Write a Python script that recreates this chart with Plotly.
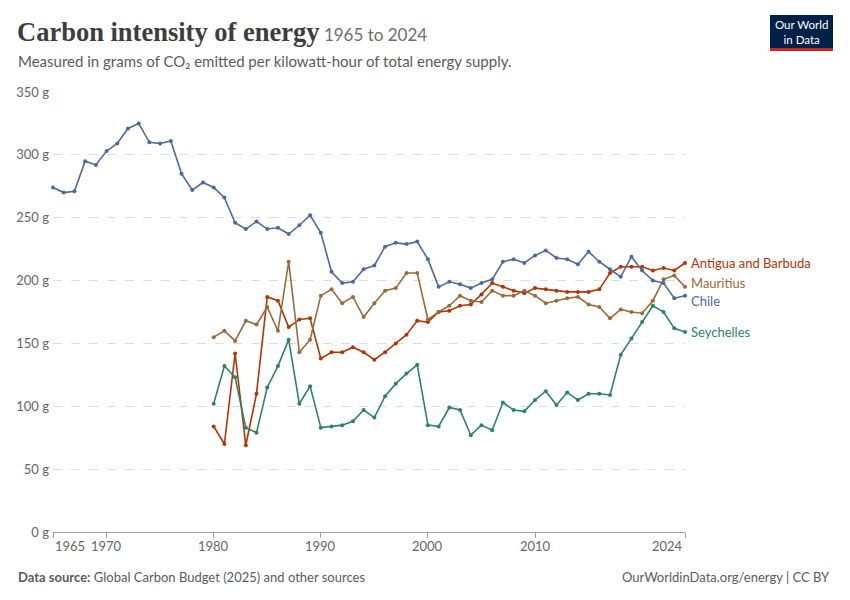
import plotly.graph_objects as go

years_chile = list(range(1965, 2025))
chile = [274, 270, 271, 295, 292, 303, 309, 321, 325, 310,
         309, 311, 285, 272, 278, 274, 266, 246, 241, 247,
         241, 242, 237, 244, 252, 238, 207, 198, 199, 209,
         212, 227, 230, 229, 231, 217, 195, 199, 197, 194,
         198, 201, 215, 217, 214, 220, 224, 218, 217, 213,
         223, 215, 209, 203, 219, 208, 200, 198, 186, 188]

years_other = list(range(1980, 2025))
antigua = [84, 70, 142, 69, 110, 187, 184, 163, 169, 170,
           138, 143, 143, 147, 143, 137, 143, 150, 157, 168,
           167, 175, 176, 180, 181, 189, 198, 195, 192, 190,
           194, 193, 192, 191, 191, 191, 193, 206, 211, 211,
           211, 208, 210, 208, 214]
mauritius = [155, 160, 152, 168, 165, 179, 160, 215, 143, 153,
             188, 193, 182, 187, 171, 182, 192, 194, 206, 206,
             169, 175, 180, 188, 184, 183, 192, 188, 188, 192,
             188, 182, 184, 186, 187, 181, 179, 170, 177, 175,
             174, 184, 201, 204, 195]
seychelles = [102, 132, 123, 83, 79, 115, 132, 153, 102, 116,
              83, 84, 85, 88, 97, 91, 108, 118, 126, 133,
              85, 84, 99, 97, 77, 85, 81, 103, 97, 96,
              105, 112, 101, 111, 105, 110, 110, 109, 141, 154,
              167, 180, 175, 162, 159]

x_tick_vals = [1965, 1970, 1980, 1990, 2000, 2010, 2024]
y_tick_vals = [0, 50, 100, 150, 200, 250, 300, 350]
y_tick_text = [f"{v} g" for v in y_tick_vals]

series = [
    ("Antigua and Barbuda", years_other, antigua, "#b13507"),
    ("Mauritius", years_other, mauritius, "#9a6b3a"),
    ("Chile", years_chile, chile, "#4c6a9c"),
    ("Seychelles", years_other, seychelles, "#2b8465"),
]
# label vertical nudges (in pixels) to avoid overlap
label_shift = {"Antigua and Barbuda": 0, "Mauritius": 4, "Chile": -5, "Seychelles": 0}

fig = go.Figure()
for name, xs, ys, col in series:
    fig.add_trace(go.Scatter(
        x=xs, y=ys, mode="lines+markers", name=name,
        line=dict(color=col, width=1.6),
        marker=dict(color=col, size=4),
        cliponaxis=False, showlegend=False,
    ))

annotations = []
for name, xs, ys, col in series:
    annotations.append(dict(
        x=xs[-1], y=ys[-1], xref="x", yref="y", text=name,
        showarrow=False, xanchor="left", yanchor="middle",
        xshift=4, yshift=label_shift[name],
        font=dict(family="Lato", size=13, color=col),
    ))

# x tick labels as annotations (OWID-style alignment at edges)
for v in x_tick_vals:
    anchor = "center"
    if v == x_tick_vals[0]:
        anchor = "left"
    elif v == x_tick_vals[-1]:
        anchor = "right"
    annotations.append(dict(
        x=v, y=0, xref="x", yref="paper", text=str(v), showarrow=False,
        xanchor=anchor, yanchor="top", yshift=-4,
        font=dict(family="Lato", size=13, color="#666666"),
    ))

fig.update_layout(
    width=850, height=600,
    margin=dict(l=53, r=165, t=92, b=68),
    paper_bgcolor="white", plot_bgcolor="white",
    font=dict(family="Lato", color="#666666"),
    xaxis=dict(
        range=[1965, 2024], tickvals=x_tick_vals, showticklabels=False,
        showgrid=False, zeroline=False, showline=True, linecolor="#a0a0a0",
        linewidth=1, ticks="outside", ticklen=5, tickcolor="#a0a0a0",
    ),
    yaxis=dict(
        range=[0, 350], tickmode="array", tickvals=y_tick_vals, ticktext=y_tick_text,
        showgrid=True, gridcolor="#dddddd", griddash="dash", gridwidth=1,
        zeroline=False, showline=False, ticks="", ticklabelstandoff=3,
        tickfont=dict(family="Lato", size=13, color="#666666"),
    ),
    annotations=annotations,
)

W, H = 850, 600
pl, pr, pt, pb = 53, 165, 92, 68
pw, ph = W - pl - pr, H - pt - pb
def px(xp):
    return (xp - pl) / pw
def py(yp):
    return (H - pb - yp) / ph

fig.add_annotation(x=px(15), y=py(32), xref="paper", yref="paper",
                   xanchor="left", yanchor="middle", showarrow=False,
                   text="<b>Carbon intensity of energy</b>"
                        "<span style='font-family:Lato;font-size:17px;color:#6e6e6e'> 1965 to 2024</span>",
                   font=dict(family="Liberation Serif", size=26.5, color="#3d3d3d"))
fig.add_annotation(x=px(16), y=py(61), xref="paper", yref="paper",
                   xanchor="left", yanchor="middle", showarrow=False,
                   text="Measured in grams of CO₂ emitted per kilowatt-hour of total energy supply.",
                   font=dict(family="Lato", size=15, color="#5b5b5b"))
fig.add_annotation(x=px(16), y=py(577), xref="paper", yref="paper",
                   xanchor="left", yanchor="middle", showarrow=False,
                   text="<b>Data source:</b> Global Carbon Budget (2025) and other sources",
                   font=dict(family="Lato", size=13, color="#5b5b5b"))
fig.add_annotation(x=px(832), y=py(577), xref="paper", yref="paper",
                   xanchor="right", yanchor="middle", showarrow=False,
                   text="OurWorldinData.org/energy | CC BY",
                   font=dict(family="Lato", size=13, color="#5b5b5b"))

# logo
fig.add_shape(type="rect", xref="paper", yref="paper",
              x0=px(770), x1=px(833), y0=py(48), y1=py(15),
              fillcolor="#002147", line=dict(width=0))
fig.add_shape(type="rect", xref="paper", yref="paper",
              x0=px(770), x1=px(833), y0=py(51), y1=py(48),
              fillcolor="#ce261e", line=dict(width=0))
fig.add_annotation(x=px(801.5), y=py(32), xref="paper", yref="paper",
                   xanchor="center", yanchor="middle", showarrow=False,
                   text="Our World<br>in Data",
                   font=dict(family="Lato", size=11.5, color="white"))

fig.write_html("out.html", config={"displayModeBar": False},
               post_script="document.body.style.margin='0';")
